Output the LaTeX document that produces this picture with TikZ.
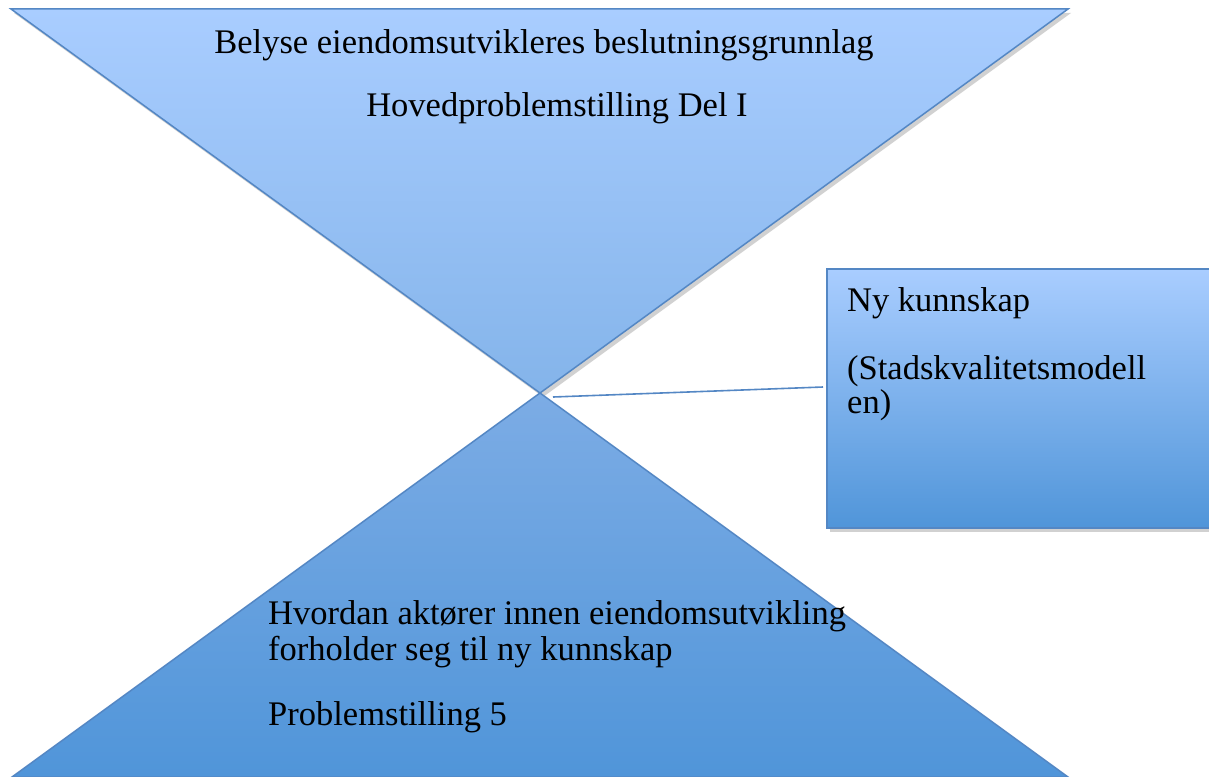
\documentclass[tikz,border=0pt]{standalone}
\usepackage{fontspec}
\setmainfont{Liberation Serif}
\usetikzlibrary{shadows}
\definecolor{lightblue}{RGB}{169,205,255}
\definecolor{midblue}{RGB}{132,180,234}
\definecolor{midblueb}{RGB}{124,172,229}
\definecolor{deepblue}{RGB}{80,149,217}
\definecolor{edgeblue}{RGB}{84,135,196}
\tikzset{
  shapeedge/.style={draw=edgeblue, line width=1.5pt, line join=miter},
  softshadow/.style={drop shadow={shadow xshift=3pt, shadow yshift=-4pt, opacity=0.3, fill=black!60}},
  label/.style={font=\fontsize{34.5}{40}\selectfont, inner sep=0pt, text=black},
  link/.style={draw=edgeblue, line width=1.6pt}
}
\begin{document}
\begin{tikzpicture}[x=1pt, y=-1pt]
\useasboundingbox (0,0) rectangle (1209,776);
\clip (0,0) rectangle (1209,776);

% key points of the hourglass
\coordinate (tl) at (11,9);
\coordinate (tr) at (1068,9);
\coordinate (apex) at (540,393);
\coordinate (bl) at (12,777);
\coordinate (br) at (1068,777);

% upper triangle
\path[softshadow, shapeedge, top color=lightblue, bottom color=midblue]
  (tl) -- (tr) -- (apex) -- cycle;

% lower triangle
\path[softshadow, shapeedge, top color=midblueb, bottom color=deepblue]
  (apex) -- (br) -- (bl) -- cycle;

% side box
\path[softshadow, draw=edgeblue, line width=1.2pt, top color=lightblue, bottom color=deepblue]
  (827,269) rectangle (1230,528);
\coordinate (boxw) at (823,387);
\coordinate (apexr) at (553,397);

\draw[link] (apexr) -- (boxw);

% texts
\node[label, anchor=base] (t1) at (544,54) {Belyse eiendomsutvikleres beslutningsgrunnlag};
\node[label, anchor=base] (t2) at (557,116) {Hovedproblemstilling Del I};

\node[label, anchor=base west] (k1) at (847,311) {Ny kunnskap};
\node[label, anchor=base west] (k2) at (847,379) {(Stadskvalitetsmodell};
\node[label, anchor=base west] (k3) at (847,413) {en)};

\node[label, anchor=base west] (b1) at (268,624) {Hvordan aktører innen eiendomsutvikling};
\node[label, anchor=base west] (b2) at (268,660) {forholder seg til ny kunnskap};
\node[label, anchor=base west] (b3) at (268,725) {Problemstilling 5};
\end{tikzpicture}
\end{document}
